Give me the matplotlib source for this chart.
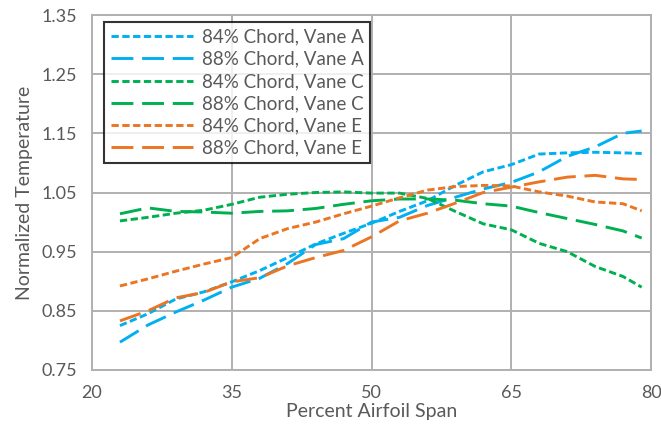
import matplotlib
matplotlib.use("Agg")
import matplotlib.pyplot as plt

# percent airfoil span
span = [23, 26, 29, 32, 35, 38, 41, 44, 47, 50, 53, 56, 59, 62, 65, 68, 71, 74, 77, 79]

a84 = [0.825, 0.845, 0.870, 0.882, 0.899, 0.918, 0.940, 0.963, 0.981, 0.998,
       1.018, 1.036, 1.062, 1.085, 1.097, 1.115, 1.117, 1.118, 1.117, 1.116]
a88 = [0.797, 0.826, 0.848, 0.868, 0.890, 0.905, 0.930, 0.962, 0.972, 1.000,
       1.008, 1.028, 1.042, 1.056, 1.067, 1.085, 1.111, 1.127, 1.150, 1.154]
c84 = [1.002, 1.008, 1.015, 1.020, 1.030, 1.042, 1.047, 1.050, 1.051, 1.049,
       1.049, 1.040, 1.018, 0.997, 0.987, 0.964, 0.950, 0.925, 0.908, 0.890]
c88 = [1.014, 1.024, 1.018, 1.017, 1.015, 1.018, 1.019, 1.023, 1.030, 1.036,
       1.039, 1.039, 1.037, 1.031, 1.027, 1.016, 1.006, 0.996, 0.985, 0.973]
e84 = [0.892, 0.904, 0.917, 0.929, 0.940, 0.972, 0.989, 1.000, 1.014, 1.027,
       1.041, 1.054, 1.060, 1.062, 1.061, 1.051, 1.044, 1.034, 1.031, 1.019]
e88 = [0.833, 0.850, 0.872, 0.881, 0.899, 0.906, 0.926, 0.940, 0.952, 0.975,
       1.002, 1.015, 1.032, 1.050, 1.059, 1.068, 1.076, 1.079, 1.073, 1.072]

labels = ["84% Chord, Vane A", "88% Chord, Vane A", "84% Chord, Vane C",
          "88% Chord, Vane C", "84% Chord, Vane E", "88% Chord, Vane E"]
xticks = [20, 35, 50, 65, 80]
yticks = [0.75, 0.85, 0.95, 1.05, 1.15, 1.25, 1.35]

blue, green, orange = "#00B0F0", "#00B050", "#EB7522"
short, long_ = (0, (2.5, 1.2)), (0, (7.5, 3.0))
grey_txt = "#595959"

plt.rcParams["font.family"] = ["Lato", "DejaVu Sans"]

fig = plt.figure(figsize=(6.61, 4.30), dpi=100)
ax = fig.add_axes([92 / 661, 1 - 370 / 430, (651 - 92) / 661, (370 - 15) / 430])

series = [(a84, blue, short), (a88, blue, long_), (c84, green, short),
          (c88, green, long_), (e84, orange, short), (e88, orange, long_)]
for (ys, col, ls), lab in zip(series, labels):
    ax.plot(span, ys, color=col, linestyle=ls, lw=2.1, label=lab)

ax.set_xlim(20, 80)
ax.set_ylim(0.75, 1.35)
ax.set_xticks(xticks)
ax.set_yticks(yticks)
ax.set_yticklabels(["%.2f" % v for v in yticks])
ax.grid(True, color="#B0B0B0", lw=1.4)
ax.set_axisbelow(True)
for s in ax.spines.values():
    s.set_color("#B0B0B0")
    s.set_linewidth(1.4)
ax.tick_params(length=0, labelsize=13, colors=grey_txt, pad=11)
ax.set_xlabel("Percent Airfoil Span", fontsize=14, color=grey_txt, labelpad=1)
ax.set_ylabel("Normalized Temperature", fontsize=14, color=grey_txt, labelpad=6)

leg = ax.legend(loc="upper left", bbox_to_anchor=(104 / 661, 1 - 22 / 430),
                bbox_transform=fig.transFigure, fontsize=13.5, frameon=True,
                fancybox=False, edgecolor="black", handlelength=4.4,
                labelspacing=0.28, borderpad=0.35, handletextpad=0.45,
                borderaxespad=0)
leg.get_frame().set_linewidth(1.5)
for t in leg.get_texts():
    t.set_color(grey_txt)

fig.savefig("out.png", dpi=100)
